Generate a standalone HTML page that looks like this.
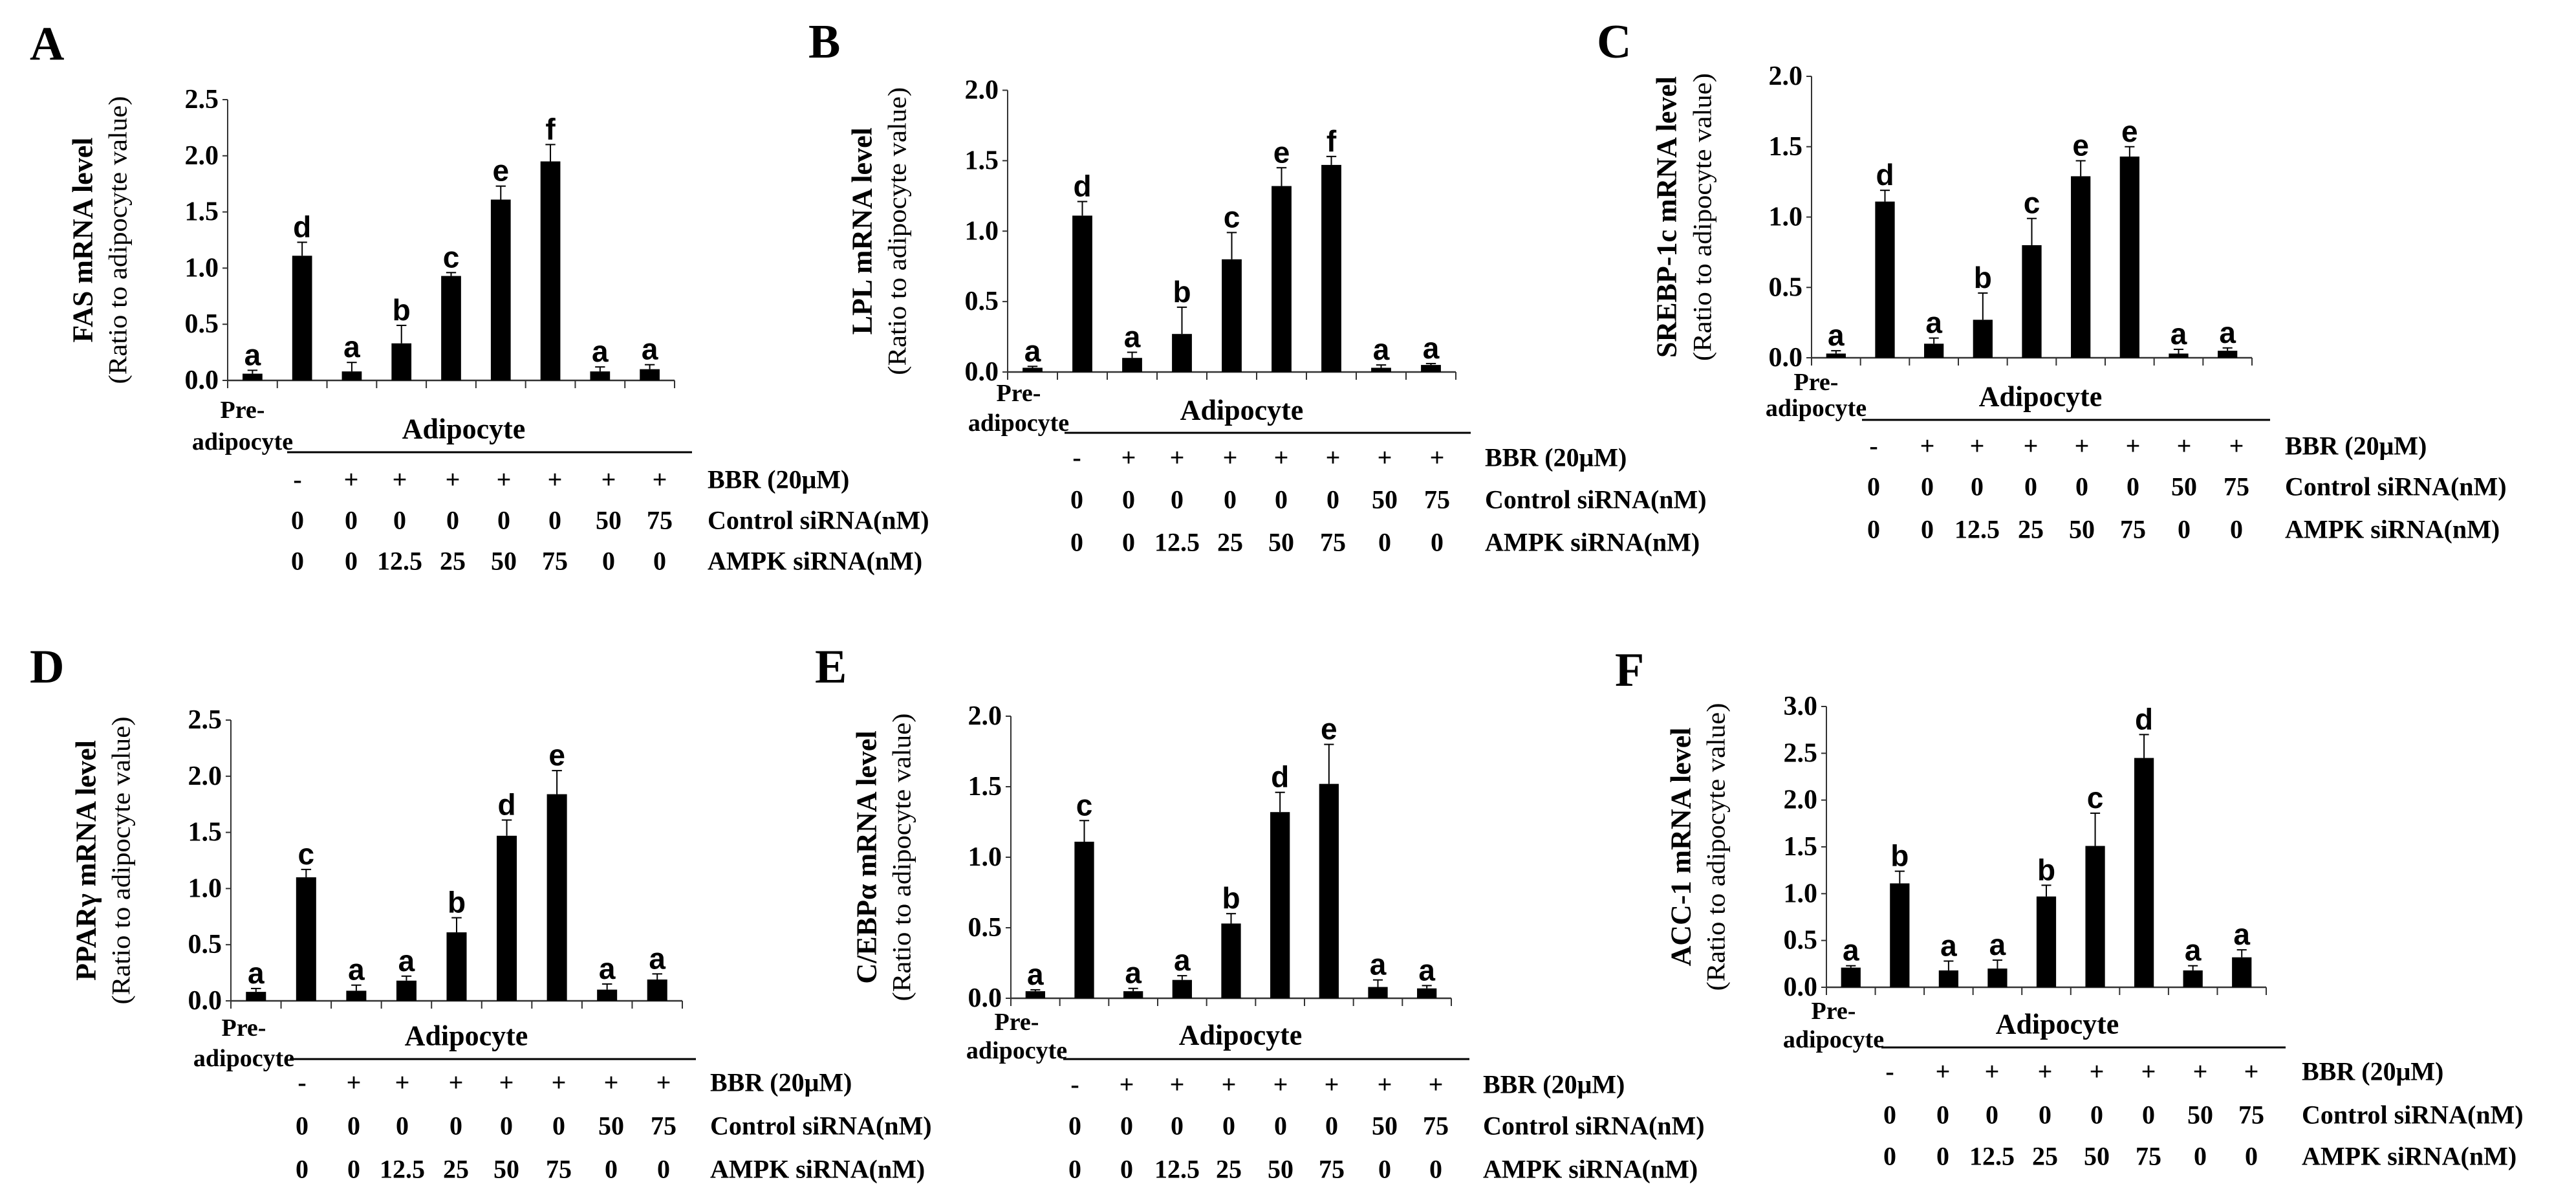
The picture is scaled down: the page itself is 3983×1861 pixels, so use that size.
<!DOCTYPE html>
<html><head><meta charset="utf-8">
<style>
html,body{margin:0;padding:0;background:#fff;}
svg{display:block;}
.serif{font-family:"Liberation Serif",serif;}
.sans{font-family:"Liberation Sans",sans-serif;}
</style></head>
<body>
<svg id="fig" width="3983" height="1861" viewBox="0 0 3983 1861" xmlns="http://www.w3.org/2000/svg"></svg>
<script>
// ---- data ----
const categories = ["Pre-adipocyte","BBR","AMPK 12.5","AMPK 25","AMPK 50","AMPK 75","Ctrl 50","Ctrl 75","extra"];
const bbrRow = ["-","+","+","+","+","+","+","+"];
const ctrlRow = ["0","0","0","0","0","0","50","75"];
const ampkRow = ["0","0","12.5","25","50","75","0","0"];
const valsA = [0.06,1.11,0.08,0.33,0.93,1.61,1.95,0.08,0.10];
const errA  = [0.03,0.12,0.08,0.16,0.03,0.12,0.15,0.04,0.04];
const sigA  = ["a","d","a","b","c","e","f","a","a"];
const valsB = [0.03,1.11,0.10,0.27,0.80,1.32,1.47,0.03,0.05];
const errB  = [0.01,0.10,0.04,0.19,0.19,0.13,0.06,0.02,0.01];
const sigB  = ["a","d","a","b","c","e","f","a","a"];
const valsC = [0.03,1.11,0.10,0.27,0.80,1.29,1.43,0.03,0.05];
const errC  = [0.02,0.08,0.04,0.19,0.19,0.11,0.07,0.03,0.02];
const sigC  = ["a","d","a","b","c","e","e","a","a"];
const valsD = [0.08,1.10,0.09,0.18,0.61,1.47,1.84,0.10,0.19];
const errD  = [0.03,0.07,0.05,0.04,0.13,0.14,0.21,0.05,0.05];
const sigD  = ["a","c","a","a","b","d","e","a","a"];
const valsE = [0.05,1.11,0.05,0.13,0.53,1.32,1.52,0.08,0.07];
const errE  = [0.01,0.15,0.02,0.03,0.07,0.14,0.28,0.05,0.02];
const sigE  = ["a","c","a","a","b","d","e","a","a"];
const valsF = [0.21,1.11,0.18,0.20,0.97,1.51,2.45,0.18,0.32];
const errF  = [0.02,0.13,0.10,0.09,0.12,0.35,0.25,0.05,0.08];
const sigF  = ["a","b","a","a","b","c","d","a","a"];
const ticksA = ["0.0","0.5","1.0","1.5","2.0","2.5"];
const ticksB = ["0.0","0.5","1.0","1.5","2.0"];
const ticksF = ["0.0","0.5","1.0","1.5","2.0","2.5","3.0"];

// ---- layout ----
const panels = [
 {id:"a",letter:"A",lx:46,ly:92,title:"FAS mRNA level",x0:352,x1:1043,yb:588,yt:154,max:2.5,ticks:ticksA,vals:valsA,err:errA,sig:sigA,
  bold:128,reg:182,preX:375,preY:634,adiY:683,adX:717,adY:663,lineY:699,lineX0:444,lineX1:1070,rows:[741,804,867],cols:[460,543,618,700,779,858,941,1020],labX:1094},
 {id:"b",letter:"B",lx:1250,ly:89,title:"LPL mRNA level",x0:1558,x1:2251,yb:575,yt:139.5,max:2.0,ticks:ticksB,vals:valsB,err:errB,sig:sigB,
  bold:1333,reg:1387,preX:1575,preY:608,adiY:654,adX:1920,adY:634,lineY:669,lineX0:1646,lineX1:2274,rows:[707,772,838],cols:[1665,1745,1820,1902,1981,2061,2141,2222],labX:2296},
 {id:"c",letter:"C",lx:2469,ly:89,title:"SREBP-1c mRNA level",x0:2801,x1:3482,yb:553,yt:118,max:2.0,ticks:ticksB,vals:valsC,err:errC,sig:sigC,
  bold:2577,reg:2632,preX:2808,preY:591,adiY:631,adX:3155,adY:613,lineY:649,lineX0:2879,lineX1:3510,rows:[689,752,818],cols:[2897,2980,3057,3140,3219,3298,3377,3458],labX:3533},
 {id:"d",letter:"D",lx:46,ly:1055,title:"PPARγ mRNA level",x0:357,x1:1055,yb:1547,yt:1113,max:2.5,ticks:ticksA,vals:valsD,err:errD,sig:sigD,
  bold:133,reg:187,preX:377,preY:1589,adiY:1636,adX:721,adY:1601,lineY:1637,lineX0:448,lineX1:1076,rows:[1673,1740,1807],cols:[467,547,622,705,783,864,945,1026],labX:1098},
 {id:"e",letter:"E",lx:1260,ly:1055,title:"C/EBPα mRNA level",x0:1563,x1:2244,yb:1543,yt:1107,max:2.0,ticks:ticksB,vals:valsE,err:errE,sig:sigE,
  bold:1340,reg:1394,preX:1572,preY:1580,adiY:1624,adX:1918,adY:1600,lineY:1637,lineX0:1644,lineX1:2272,rows:[1676,1740,1807],cols:[1662,1742,1820,1900,1980,2059,2141,2220],labX:2293},
 {id:"f",letter:"F",lx:2497,ly:1060,title:"ACC-1 mRNA level",x0:2824,x1:3504,yb:1526,yt:1092,max:3.0,ticks:ticksF,vals:valsF,err:errF,sig:sigF,
  bold:2599,reg:2653,preX:2835,preY:1563,adiY:1607,adX:3181,adY:1583,lineY:1619,lineX0:2909,lineX1:3534,rows:[1656,1723,1787],cols:[2922,3004,3080,3162,3242,3322,3402,3481],labX:3559}
];

const NS="http://www.w3.org/2000/svg";
const svg=document.getElementById("fig");
function mk(tag,attrs,parent,text){const e=document.createElementNS(NS,tag);for(const k in attrs)e.setAttribute(k,attrs[k]);if(text!==undefined)e.textContent=text;(parent||svg).appendChild(e);return e;}

panels.forEach(p=>{
  const g=mk("g",{});
  
  
  const n=p.vals.length;
  const cw=(p.x1-p.x0)/n;
  const xc=i=>p.x0+cw*(i+0.5);
  const ys=v=>p.yb-(v/p.max)*(p.yb-p.yt);
  const L=mk("text",{x:p.lx,y:p.ly,"font-size":74,"font-weight":"bold",class:"serif"},g,p.letter);
  
  
  const cy=(p.yb+p.yt)/2;
  const t1=mk("text",{x:p.bold,y:cy,"font-size":44,"font-weight":"bold",class:"serif","text-anchor":"middle","dominant-baseline":"central",transform:`rotate(-90 ${p.bold} ${cy})`},g,p.title);
  
  
  const t2=mk("text",{x:p.reg,y:cy,"font-size":40,class:"serif","text-anchor":"middle","dominant-baseline":"central",textLength:445,lengthAdjust:"spacingAndGlyphs",transform:`rotate(-90 ${p.reg} ${cy})`},g,"(Ratio to adipocyte value)");
  
  
  const ya=mk("line",{x1:p.x0,y1:p.yt,x2:p.x0,y2:p.yb,stroke:"#333","stroke-width":2},g);
  
  
  const xa=mk("line",{x1:p.x0,y1:p.yb,x2:p.x1,y2:p.yb,stroke:"#333","stroke-width":2.5},g);
  
  
  p.ticks.forEach((t,i)=>{
    const v=parseFloat(t);const y=ys(v);
    mk("line",{x1:p.x0-8,y1:y,x2:p.x0,y2:y,stroke:"#333","stroke-width":2},g);
    const tl=mk("text",{x:p.x0-14,y:y,"font-size":42,"font-weight":"bold",class:"serif","text-anchor":"end","dominant-baseline":"central"},g,t);
    
    
  });
  for(let i=0;i<=n;i++){const x=p.x0+cw*i;mk("line",{x1:x,y1:p.yb,x2:x,y2:p.yb+12,stroke:"#333","stroke-width":2},g);}
  p.vals.forEach((v,i)=>{
    const bw=cw*0.4;const x=xc(i);const top=ys(v);const etop=ys(v+p.err[i]);
    const b=mk("rect",{x:x-bw/2,y:top,width:bw,height:p.yb-top,fill:"#000"},g);
    
    
    mk("line",{x1:x,y1:top,x2:x,y2:etop,stroke:"#000","stroke-width":2},g);
    mk("line",{x1:x-bw*0.25,y1:etop,x2:x+bw*0.25,y2:etop,stroke:"#000","stroke-width":2},g);
    const s=mk("text",{x:x,y:etop-8,"font-size":46,"font-weight":"bold",class:"sans","text-anchor":"middle"},g,p.sig[i]);
    
    
  });
  const pr=mk("text",{x:p.preX,y:p.preY,"font-size":38,"font-weight":"bold",class:"serif","text-anchor":"middle","dominant-baseline":"central"},g,"Pre-");
  
  
  mk("text",{x:p.preX,y:p.adiY,"font-size":38,"font-weight":"bold",class:"serif","text-anchor":"middle","dominant-baseline":"central"},g,"adipocyte");
  const ad=mk("text",{x:p.adX,y:p.adY,"font-size":44,"font-weight":"bold",class:"serif","text-anchor":"middle","dominant-baseline":"central"},g,"Adipocyte");
  
  
  const gl=mk("line",{x1:p.lineX0,y1:p.lineY,x2:p.lineX1,y2:p.lineY,stroke:"#000","stroke-width":3},g);
  
  
  const rowsData=[bbrRow,ctrlRow,ampkRow];
  const rowNames=["BBR (20μM)","Control siRNA(nM)","AMPK siRNA(nM)"];
  const rowKeys=["bbr-row","control-sirna-row","ampk-sirna-row"];
  rowsData.forEach((arr,r)=>{
    arr.forEach((t,i)=>{
      const c=mk("text",{x:p.cols[i],y:p.rows[r],"font-size":40,"font-weight":"bold",class:"serif","text-anchor":"middle","dominant-baseline":"central"},g,t);
      
      
    });
    const rl=mk("text",{x:p.labX,y:p.rows[r],"font-size":40,"font-weight":"bold",class:"serif","dominant-baseline":"central"},g,rowNames[r]);
    
    
  });
});
</script>
</body></html>
